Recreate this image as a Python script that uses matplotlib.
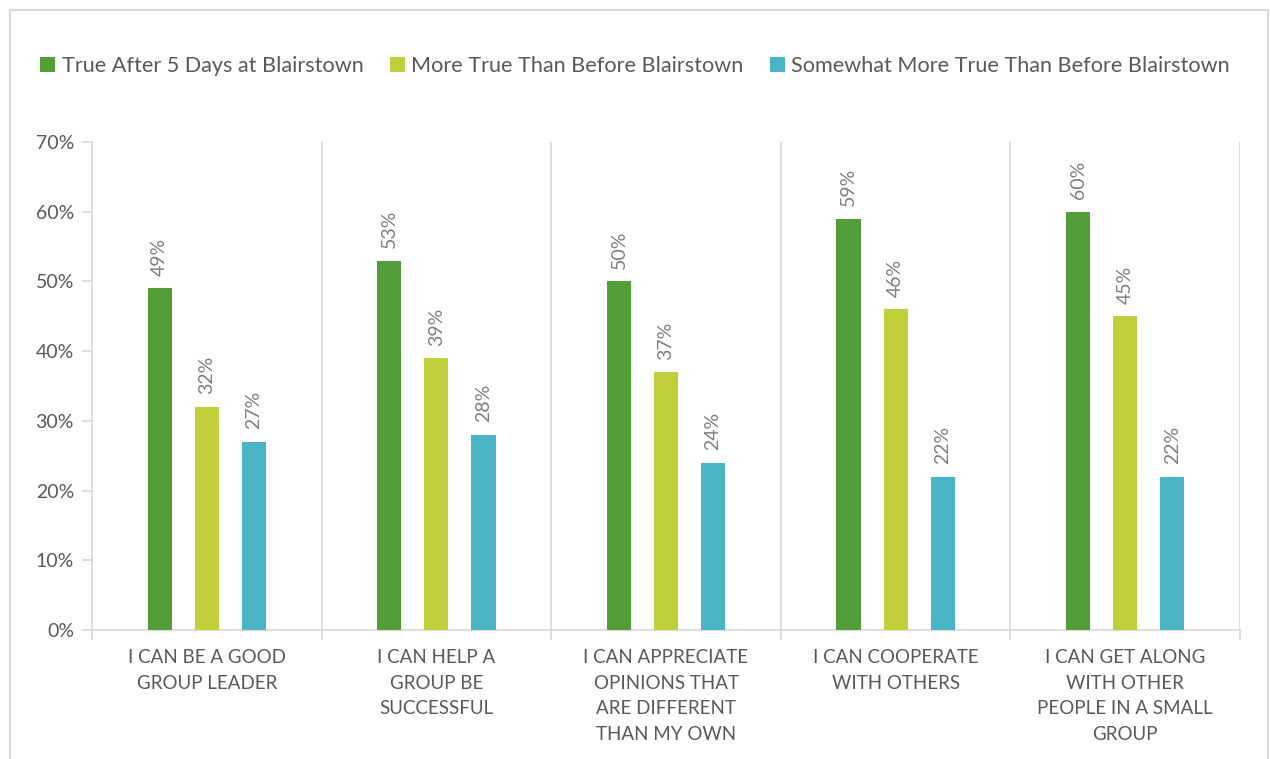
import matplotlib.pyplot as plt
import numpy as np
from matplotlib.patches import Rectangle

plt.rcParams['font.family'] = ['Lato', 'DejaVu Sans']

categories = [
    'I CAN BE A GOOD\nGROUP LEADER',
    'I CAN HELP A\nGROUP BE\nSUCCESSFUL',
    'I CAN APPRECIATE\nOPINIONS THAT\nARE DIFFERENT\nTHAN MY OWN',
    'I CAN COOPERATE\nWITH OTHERS',
    'I CAN GET ALONG\nWITH OTHER\nPEOPLE IN A SMALL\nGROUP',
]
series_names = [
    'True After 5 Days at Blairstown',
    'More True Than Before Blairstown',
    'Somewhat More True Than Before Blairstown',
]
true_after = [49, 53, 50, 59, 60]
more_true = [32, 39, 37, 46, 45]
somewhat_more = [27, 28, 24, 22, 22]

colors = ['#549E39', '#C0CF3A', '#4AB5C4']
grid_c = '#D9D9D9'
text_c = '#595959'

fig = plt.figure(figsize=(12.7, 7.59), dpi=100)
ax = fig.add_axes([92 / 1270, 1 - 630 / 759, (1240 - 92) / 1270, (630 - 142) / 759])

x = np.arange(len(categories))
width = 0.105
offsets = [-0.205, 0.0, 0.205]
for vals, name, col, off in zip([true_after, more_true, somewhat_more], series_names, colors, offsets):
    bars = ax.bar(x + off, vals, width, color=col, label=name, zorder=3)
    for b, v in zip(bars, vals):
        ax.annotate(f'{v}%', (b.get_x() + b.get_width() / 2, v), xytext=(0, 9),
                    textcoords='offset points', rotation=90, ha='center', va='bottom',
                    fontsize=14, color='#7F7F7F')

ax.set_xlim(-0.5, len(categories) - 0.5)
ax.set_ylim(0, 70)
ax.set_yticks(range(0, 71, 10))
ax.set_yticklabels([f'{t}%' for t in range(0, 71, 10)], fontsize=14, color=text_c)

bounds = np.arange(len(categories) + 1) - 0.5
for b in bounds[1:]:
    ax.axvline(b, color=grid_c, lw=1.2, zorder=1)
ax.set_xticks(bounds)
ax.set_xticklabels([])
ax.set_xticks(x, minor=True)
ax.set_xticklabels(categories, minor=True, fontsize=13.5, color=text_c, linespacing=1.6)
ax.tick_params(axis='x', which='minor', length=0, pad=14)
ax.tick_params(axis='x', which='major', length=7, color=grid_c, width=1.2)
ax.tick_params(axis='y', length=7, color=grid_c, width=1.2, pad=6)

for s in ['top', 'right']:
    ax.spines[s].set_visible(False)
for s in ['left', 'bottom']:
    ax.spines[s].set_color(grid_c)
    ax.spines[s].set_linewidth(1.2)

fig.legend(loc='center', bbox_to_anchor=(0.5, 1 - 66 / 759), ncol=3, frameon=False,
           fontsize=15.6, labelcolor=text_c, handlelength=0.7, handleheight=0.7,
           handletextpad=0.3, columnspacing=1.2)

fig.patches.append(Rectangle((10 / 1270, -0.01), 1258 / 1270, 1 - 10 / 759 + 0.01,
                             transform=fig.transFigure, fill=False, edgecolor=grid_c, lw=1.5))

fig.savefig('out.png', dpi=100, facecolor='white')
